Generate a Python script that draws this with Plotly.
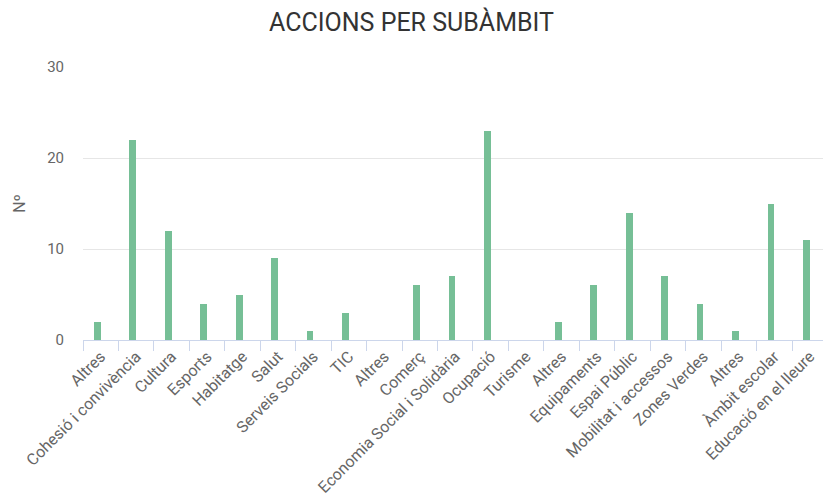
import plotly.graph_objects as go

categories = ["Altres", "Cohesió i convivència", "Cultura", "Esports", "Habitatge",
              "Salut", "Serveis Socials", "TIC", "Altres", "Comerç",
              "Economia Social i Solidària", "Ocupació", "Turisme", "Altres",
              "Equipaments", "Espai Públic", "Mobilitat i accessos", "Zones Verdes",
              "Altres", "Àmbit escolar", "Educació en el lleure"]
values = [2, 22, 12, 4, 5, 9, 1, 3, 0, 6, 7, 23, 0, 2, 6, 14, 7, 4, 1, 15, 11]
y_ticks = [0, 10, 20, 30]

positions = list(range(len(categories)))

fig = go.Figure(go.Bar(
    x=positions, y=values, width=0.19, offset=-0.19,
    marker=dict(color="#76bf96", line=dict(width=0)),
    hovertext=categories,
))

fig.update_layout(
    width=823, height=497,
    margin=dict(l=83, r=0, t=67, b=157, autoexpand=False),
    paper_bgcolor="white", plot_bgcolor="white",
    font=dict(family="Roboto", color="#666666"),
    title=dict(text="ACCIONS PER SUBÀMBIT", x=0.5, xanchor="center",
               y=1 - 22 / 497, yanchor="middle",
               font=dict(family="Roboto", size=25, color="#333333")),
    showlegend=False,
    bargap=0,
)
fig.update_xaxes(
    range=[-0.5, 20.373], automargin=False,
    tickmode="array", tickvals=positions, ticktext=categories,
    tickangle=-45, ticks="", tickfont=dict(size=16, color="#666666"),
    showgrid=False, showline=True, linecolor="#ccd6eb", linewidth=1,
    zeroline=False,
    minor=dict(tickmode="linear", tick0=-0.5, dtick=1, ticks="outside",
               ticklen=10, tickcolor="#ccd6eb", tickwidth=1, showgrid=False),
)
fig.update_yaxes(
    range=[0, 30], tickmode="array", tickvals=y_ticks, automargin=False,
    showgrid=True, gridcolor="#e6e6e6", gridwidth=1,
    zeroline=False, showline=False,
    tickfont=dict(size=15, color="#666666"), ticks="", ticklabelstandoff=18,
    title=dict(text="Nº", font=dict(size=16, color="#666666"), standoff=17),
)

fig.write_html("out.html", config={"displayModeBar": False},
               post_script="document.body.style.margin='0';document.body.style.overflow='hidden';")
